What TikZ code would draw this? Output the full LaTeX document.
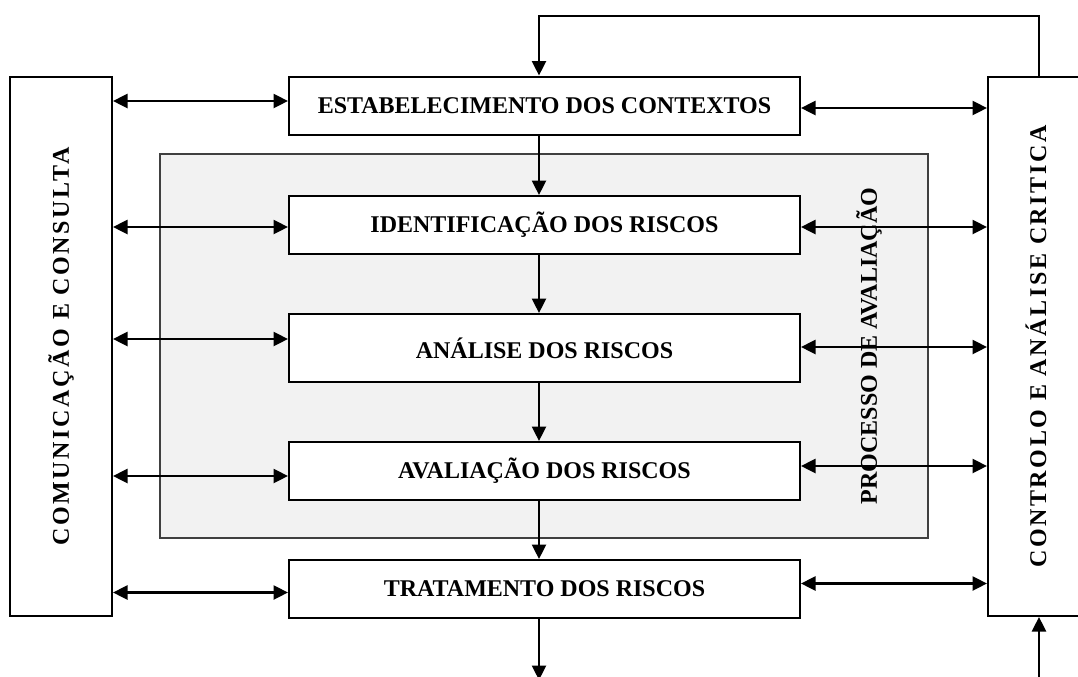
\documentclass[tikz,border=0pt]{standalone}
\usepackage{fontspec}
\setmainfont{Liberation Serif}
\newfontfamily\widefont{Liberation Serif}[LetterSpace=11]
\usepackage{tikz}
\usetikzlibrary{calc,arrows.meta,positioning}
\tikzset{
  head/.tip={Triangle[length=7.25pt,width=7pt]},
  stage/.style={draw, fill=white, line width=1pt, minimum width=255.5pt,
  minimum height=29pt, font=\bfseries\fontsize{12}{14}\selectfont, text centered},
  side/.style={draw, fill=white, line width=1pt, minimum width=51pt,
  minimum height=269.5pt},
  area/.style={draw=black!75, fill=black!5, line width=0.8pt,
  minimum width=384pt, minimum height=192pt},
  sidetext/.style={rotate=90, font=\widefont\bfseries\fontsize{12}{14}\selectfont},
  link/.style={line width=1.3pt, -head},
  duplex/.style={line width=1.3pt, head-head}
}
\begin{document}
\begin{tikzpicture}[x=0.5pt,y=-0.5pt]
\clip (0,0) rectangle (1078,676);
\useasboundingbox (0,0) rectangle (1078,676);
\node[area] (proc) at (544,346) {};
\node[rotate=90, font=\bfseries\fontsize{12}{14}\selectfont] (proclabel)
	at (869,346) {PROCESSO DE AVALIAÇÃO};
\node[side] (com) at (61,346.5) {};
\node[sidetext] at (com) {COMUNICAÇÃO E CONSULTA};
\node[side] (ctl) at (1039,346.5) {};
\node[sidetext] at ($(ctl)+(-3,0)$) {CONTROLO E ANÁLISE CRITICA};
\node[stage] (ctx) at (544.5,105.5) {ESTABELECIMENTO DOS CONTEXTOS};
\node[stage] (idf) at (544.5,225) {IDENTIFICAÇÃO DOS RISCOS};
\node[stage, minimum height=34pt] (ana) at (544.5,348) {ANÁLISE DOS RISCOS};
\node[stage] (ava) at (544.5,471) {AVALIAÇÃO DOS RISCOS};
\node[stage] (trt) at (544.5,589) {TRATAMENTO DOS RISCOS};
\coordinate (loop) at (539,16);
\coordinate (out) at (539,680);
\coordinate (in) at (1039,680);
% main flow
\foreach \a/\b in {ctx/idf,idf/ana,ana/ava,ava/trt}
	\draw[link] (\a.south -| loop) -- (\b.north -| loop);
\draw[link] (trt.south -| loop) -- (out);
\draw[link] (ctl.north) |- (loop) -- (ctx.north -| loop);
\draw[link] (in) -- (ctl.south);
% both sides
\foreach \n/\l/\r in {ctx/4.5/-2.5,idf/-2/-2,ana/9/1,ava/-5/5,trt/-3.5/5.5}{
	\draw[duplex] ([yshift=\l*0.5pt]com.east |- \n.west) -- ([yshift=\l*0.5pt]\n.west);
	\draw[duplex] ([yshift=\r*0.5pt]\n.east) -- ([yshift=\r*0.5pt]ctl.west |- \n.east);
}
\end{tikzpicture}
\end{document}
